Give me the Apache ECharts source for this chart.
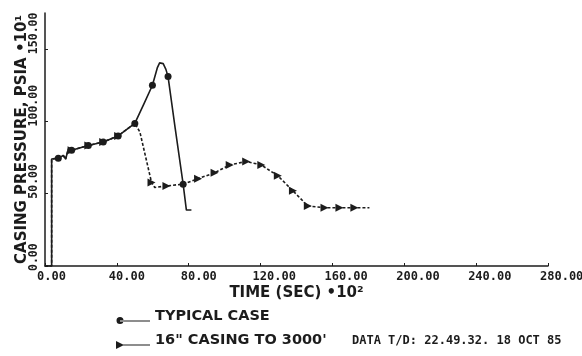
<!DOCTYPE html>
<html>
<head>
<meta charset="utf-8">
<script src="https://cdn.jsdelivr.net/npm/echarts@6/dist/echarts.min.js"></script>
<style>
  html, body { margin: 0; padding: 0; background: #fff; }
  #chart { width: 582px; height: 356px; }
</style>
</head>
<body>
<div id="chart"></div>
<script>
// time (sec *10^2) / pressure (psia *10^1)
const typicalTime = [0, 3.7, 3.7, 7.4, 10.2, 11.5, 13, 14.8, 24.1, 32.4, 40.7, 50, 55, 59.8, 62.5, 63.8, 64.8, 65.8, 67.3, 68.5, 72.5, 76.9, 78.7, 81.5];
const typicalPress = [0, 0, 74, 74.6, 76.4, 74, 81, 80, 83.4, 85.8, 90, 98.6, 112, 125, 137, 140.5, 141, 140, 136, 131, 95, 56.6, 38.7, 38.7];
const typicalMarks = [3, 7, 8, 9, 10, 11, 13, 19, 21];

const casingTime = [0, 3.7, 3.7, 7.4, 10.2, 11.5, 13, 14.8, 24.1, 32.4, 40.7, 50, 52.8, 59.3, 61.1, 67.6, 76.9, 85.2, 94.4, 102.8, 112, 120.4, 129.6, 138, 146.3, 155.6, 163.9, 172.2, 180.6];
const casingPress = [0, 0, 74, 74.6, 76.4, 74, 81, 80, 83.4, 85.8, 90, 98.6, 92.8, 57.8, 54.3, 55.4, 56.6, 60.4, 64.5, 69.9, 72.3, 69.9, 62.4, 52, 41.5, 40.3, 40.3, 40.3, 40.3];
const casingMarks = [7, 8, 9, 10, 13, 15, 17, 18, 19, 20, 21, 22, 23, 24, 25, 26, 27];

const seriesNames = ['TYPICAL CASE', '16" CASING TO 3000\''];
const stamp = 'DATA T/D: 22.49.32. 18 OCT 85';

const ink = '#1c1c1c';
const chart = echarts.init(document.getElementById('chart'));

function pairs(xs, ys) {
    return xs.map((x, i) => [x, ys[i]]);
}

// legend icons: marker at the left end of an underline
const iconTypical = 'path://M0,0 L0.01,0 L0.01,0.01 Z M0.5,12.5 A3.5,3.5 0 1,0 7.5,12.5 A3.5,3.5 0 1,0 0.5,12.5 Z M4,12.6 L34,12.6 L34,13.6 L4,13.6 Z';
const iconCasing = 'path://M0,0 L0.01,0 L0.01,0.01 Z M0,9 L8,13 L0,17 Z M6,12.6 L34,12.6 L34,13.6 L6,13.6 Z';

const option = {
    animation: false,
    backgroundColor: '#fff',
    grid: {
        left: 45,
        right: 34,
        top: 13,
        bottom: 90,
        containLabel: false,
        outerBoundsMode: 'none'
    },
    legend: {
        orient: 'vertical',
        left: 116,
        top: 308,
        padding: 0,
        itemWidth: 34,
        itemHeight: 17,
        itemGap: 8,
        data: [
            {name: seriesNames[0], icon: iconTypical},
            {name: seriesNames[1], icon: iconCasing}
        ],
        textStyle: {
            color: ink,
            fontFamily: 'DejaVu Sans',
            fontWeight: 'bold',
            fontSize: 14.5
        }
    },
    graphic: [
        {
            type: 'text',
            left: 352,
            top: 335,
            style: {
                text: stamp,
                fill: ink,
                font: 'bold 12px "DejaVu Sans Mono"'
            }
        }
    ],
    xAxis: {
        type: 'value',
        min: 0,
        max: 280,
        interval: 40,
        name: 'TIME (SEC) •10²',
        nameLocation: 'middle',
        nameGap: 20,
        nameMoveOverlap: false,
        nameTextStyle: {
            color: ink,
            fontFamily: 'DejaVu Sans',
            fontWeight: 'bold',
            fontSize: 15
        },
        axisLine: {lineStyle: {color: ink, width: 1.5}},
        axisTick: {show: true, inside: true, length: 3, lineStyle: {color: ink}},
        splitLine: {show: false},
        axisLabel: {
            color: ink,
            fontFamily: 'DejaVu Sans Mono',
            fontWeight: 'bold',
            fontSize: 12,
            margin: 5,
            align: 'left',
            padding: [0, 0, 0, -8],
            hideOverlap: false,
            formatter: v => v.toFixed(2)
        }
    },
    yAxis: {
        type: 'value',
        min: 0,
        max: 175,
        interval: 50,
        name: 'CASING PRESSURE, PSIA •10¹',
        nameLocation: 'middle',
        nameGap: 15,
        nameMoveOverlap: false,
        nameTextStyle: {
            color: ink,
            fontFamily: 'DejaVu Sans',
            fontWeight: 'bold',
            fontSize: 15
        },
        axisLine: {show: true, lineStyle: {color: ink, width: 1.5}},
        axisTick: {show: true, inside: true, length: 3, lineStyle: {color: ink}},
        splitLine: {show: false},
        axisLabel: {
            color: ink,
            fontFamily: 'DejaVu Sans Mono',
            fontWeight: 'bold',
            fontSize: 11.5,
            rotate: 90,
            margin: 5,
            align: 'left',
            verticalAlign: 'bottom',
            padding: [0, 0, 0, -5],
            showMaxLabel: false,
            formatter: v => v.toFixed(2)
        }
    },
    series: [
        {
            name: seriesNames[0],
            type: 'line',
            data: pairs(typicalTime, typicalPress),
            color: ink,
            showAllSymbol: true,
            symbol: (v, p) => typicalMarks.includes(p.dataIndex) ? 'circle' : 'none',
            symbolSize: 7,
            itemStyle: {color: ink},
            lineStyle: {color: ink, width: 1.6},
            z: 3
        },
        {
            name: seriesNames[1],
            type: 'line',
            data: pairs(casingTime, casingPress),
            color: ink,
            showAllSymbol: true,
            symbol: (v, p) => casingMarks.includes(p.dataIndex) ? 'triangle' : 'none',
            symbolRotate: -90,
            symbolSize: 8,
            itemStyle: {color: ink},
            lineStyle: {color: ink, width: 1.6, type: [3, 2]},
            z: 2
        }
    ]
};

chart.setOption(option);
</script>
</body>
</html>
